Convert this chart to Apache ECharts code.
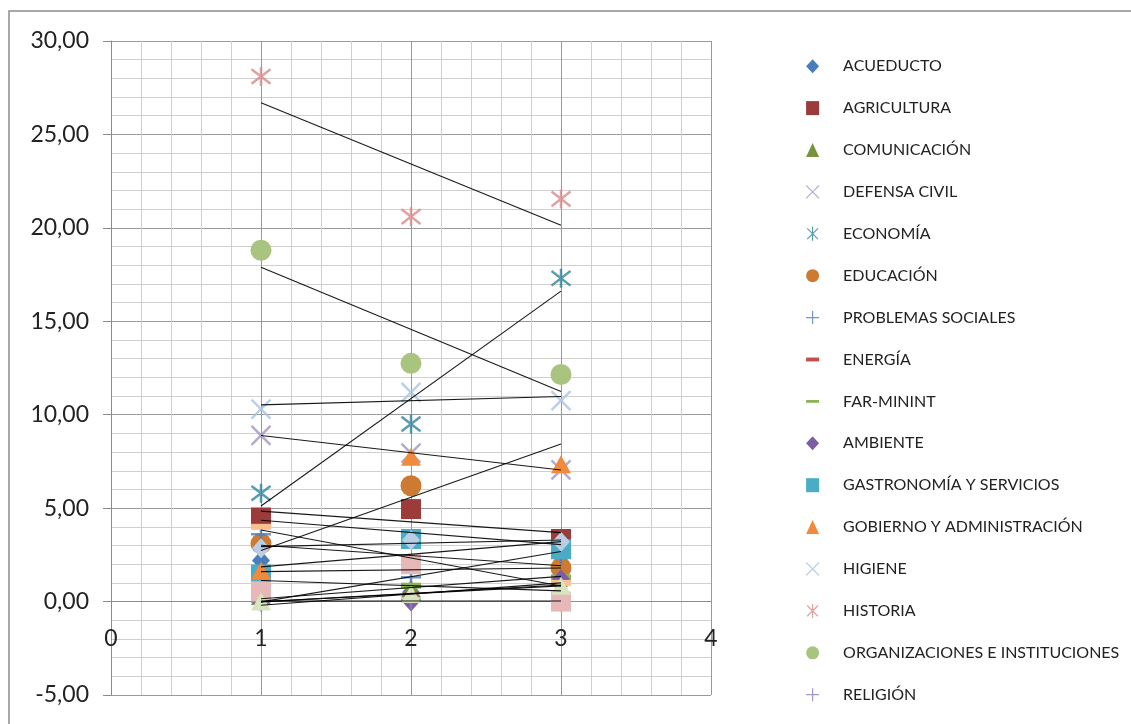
<!DOCTYPE html>
<html>
<head>
<meta charset="utf-8">
<script src="https://cdn.jsdelivr.net/npm/echarts@6/dist/echarts.min.js"></script>
<style>html,body{margin:0;padding:0;background:#fff}#c{width:1131px;height:724px}</style>
</head>
<body>
<div id="c"></div>
<script>
// ---- data ----
const xValues = [1, 2, 3];
const yTicks = [-5, 0, 5, 10, 15, 20, 25, 30];
const xTicks = [0, 1, 2, 3, 4];

const acueducto      = [2.2, 0.5, 2.4];
const agricultura    = [4.5, 4.95, 3.35];
const comunicacion   = [0.3, 0.7, 3.0];
const defensaCivil   = [8.9, 7.95, 7.05];
const economia       = [5.8, 9.5, 17.3];
const educacion      = [3.1, 6.2, 1.8];
const problemasSoc   = [3.6, 1.3, 2.5];
const energia        = [0.0, 0.4, 0.9];
const farMinint      = [0.1, 0.85, 1.3];
const ambiente       = [0.0, 0.0, 1.2];
const gastronomia    = [1.45, 3.35, 2.8];
const gobierno       = [1.65, 7.75, 7.35];
const higiene        = [10.3, 11.2, 10.75];
const historia       = [28.1, 20.6, 21.55];
const organizaciones = [18.8, 12.75, 12.15];
const religion       = [0.0, 0.1, 0.0];
// series present in the plot but cut off from the legend
const serie18        = [4.0, 2.0, 1.0];
const serie19        = [2.85, 3.3, 3.2];
const serie20        = [0.55, 2.0, 0.0];
const serie21        = [0.0, 0.4, 0.85];

const legendNames = ['ACUEDUCTO','AGRICULTURA','COMUNICACIÓN','DEFENSA CIVIL','ECONOMÍA','EDUCACIÓN',
  'PROBLEMAS SOCIALES','ENERGÍA','FAR-MININT','AMBIENTE','GASTRONOMÍA Y SERVICIOS',
  'GOBIERNO Y ADMINISTRACIÓN','HIGIENE','HISTORIA','ORGANIZACIONES E INSTITUCIONES','RELIGIÓN'];
const hiddenNames = ['SERIE 18','SERIE 19','SERIE 20','SERIE 21'];

// ---- styling ----
const SYM = {
  diamond: {symbol:'diamond', size:[18,20], stroke:false},
  square: {symbol:'rect', size:20, stroke:false},
  triangle: {symbol:'triangle', size:[20,18], stroke:false},
  x: {symbol:'path://M0,0L10,10M10,0L0,10', size:19, stroke:true},
  star: {symbol:'path://M0,0L10,10M10,0L0,10M5,-1.5L5,11.5', size:19, stroke:true},
  circle: {symbol:'circle', size:21, stroke:false},
  plus: {symbol:'path://M5,0L5,10M0,5L10,5', size:20, stroke:true},
  dash: {symbol:'path://M0,0L10,0L10,3L0,3Z', size:[13,5], stroke:false},
  ldash: {symbol:'path://M0,0L14,0L14,3L0,3Z', size:[20,6], stroke:false}
};
const seriesDefs = [
  [legendNames[0], acueducto, 'diamond', '#4A7EBB'],
  [legendNames[1], agricultura, 'square', '#9B3B3A'],
  [legendNames[2], comunicacion, 'triangle', '#77933C'],
  [legendNames[3], defensaCivil, 'x', '#A393C4'],
  [legendNames[4], economia, 'star', '#31859C'],
  [legendNames[5], educacion, 'circle', '#CD7A32'],
  [legendNames[6], problemasSoc, 'plus', '#4A7EBB'],
  [legendNames[7], energia, 'dash', '#C0504D'],
  [legendNames[8], farMinint, 'ldash', '#8EB356'],
  [legendNames[9], ambiente, 'diamond', '#7D5EA5'],
  [legendNames[10], gastronomia, 'square', '#4BACC6'],
  [legendNames[11], gobierno, 'triangle', '#F28A3C'],
  [legendNames[12], higiene, 'x', '#A9C4E4'],
  [legendNames[13], historia, 'star', '#D9898A'],
  [legendNames[14], organizaciones, 'circle', '#A9C47F'],
  [legendNames[15], religion, 'plus', '#8F7DB9'],
  [hiddenNames[0], serie18, 'ldash', '#FAC090'],
  [hiddenNames[1], serie19, 'diamond', '#B9CDE5'],
  [hiddenNames[2], serie20, 'square', '#E6B9B8'],
  [hiddenNames[3], serie21, 'triangle', '#D7E4BD']
];

function linreg(xs, ys) {
  const n = xs.length;
  const mx = xs.reduce((a,b)=>a+b,0)/n, my = ys.reduce((a,b)=>a+b,0)/n;
  let sxy = 0, sxx = 0;
  for (let i=0;i<n;i++){ sxy += (xs[i]-mx)*(ys[i]-my); sxx += (xs[i]-mx)*(xs[i]-mx); }
  const m = sxy/sxx; return [m, my - m*mx];
}

const series = [];
const legendData = [];
seriesDefs.forEach(([name, vals, sym, color], i) => {
  const s = SYM[sym];
  const itemStyle = s.stroke ? {color:'rgba(0,0,0,0)', borderColor: color, borderWidth: 2.5}
                             : {color: color, opacity: 1};
  series.push({
    name, type:'scatter', symbol: s.symbol, symbolSize: s.size,
    data: xValues.map((x,k)=>[x, vals[k]]),
    itemStyle, z: 2 + i*0.01, emphasis:{disabled:true}
  });
  if (legendNames.includes(name)) {
    legendData.push({name, icon: s.symbol,
      itemStyle: s.stroke ? {color:'rgba(0,0,0,0)', borderColor: color, borderWidth: 1.2} : {color: color}});
  }
});
seriesDefs.forEach(([name, vals]) => {
  const [m, b] = linreg(xValues, vals);
  const x0 = xValues[0], x1 = xValues[xValues.length-1];
  series.push({
    name: name + ' trend', type:'line', silent:true, symbol:'none', z: 5,
    data: [[x0, m*x0+b], [x1, m*x1+b]],
    lineStyle: {color:'#000', width:1.1, opacity:0.9}
  });
});

const FONT = 'Lato';
const GRID_TOP = 41, GRID_BOTTOM = 29, H = 724;
const plotH = H - GRID_TOP - GRID_BOTTOM;
const yMin = yTicks[0], yMax = yTicks[yTicks.length-1];
// place x axis at y = 0 (crossing), like the reference
const xAxisOffset = -plotH * (0 - yMin) / (yMax - yMin);

const chart = echarts.init(document.getElementById('c'), null, {renderer:'canvas'});
chart.setOption({
  animation:false,
  backgroundColor:'#fff',
  textStyle:{fontFamily:FONT},
  graphic:[{type:'rect', shape:{x:9, y:11, width:1200, height:800},
    style:{fill:'none', stroke:'#8c8c8c', lineWidth:1.5}, silent:true}],
  grid:{left:111, right:420, top:GRID_TOP, bottom:GRID_BOTTOM, containLabel:false, outerBoundsMode:'none'},
  xAxis:{
    type:'value', min:xTicks[0], max:xTicks[xTicks.length-1], interval:1,
    position:'bottom', offset:xAxisOffset,
    axisLine:{show:true, onZero:false, lineStyle:{color:'#8c8c8c', width:1}},
    axisTick:{show:false},
    axisLabel:{margin:26, fontSize:23, color:'#222', fontFamily:FONT,
      formatter: v => xTicks.includes(v) ? String(v) : ''},
    splitLine:{show:true, lineStyle:{color:'#9a9a9a', width:1}},
    minorTick:{show:false, splitNumber:5},
    minorSplitLine:{show:true, lineStyle:{color:'#cfcfcf', width:1}}
  },
  yAxis:{
    type:'value', min:yMin, max:yMax, interval:5,
    axisLine:{show:true, onZero:false, lineStyle:{color:'#8c8c8c', width:1}},
    axisTick:{show:true, length:8, lineStyle:{color:'#8c8c8c'}},
    axisLabel:{margin:22, fontSize:23, color:'#222', fontFamily:FONT,
      formatter: v => v.toFixed(2).replace('.', ',')},
    splitLine:{show:true, lineStyle:{color:'#9a9a9a', width:1}},
    minorTick:{show:false, splitNumber:5},
    minorSplitLine:{show:true, lineStyle:{color:'#cfcfcf', width:1}}
  },
  legend:{
    orient:'vertical', left:805.5, top:58.2, padding:0, itemWidth:13, itemHeight:14, itemGap:25.9,
    symbolKeepAspect:true,
    textStyle:{fontSize:16, color:'#222', fontFamily:FONT, lineHeight:14, padding:[0,0,0,19]},
    data: legendData, selectedMode:false
  },
  series
});
</script>
</body>
</html>
